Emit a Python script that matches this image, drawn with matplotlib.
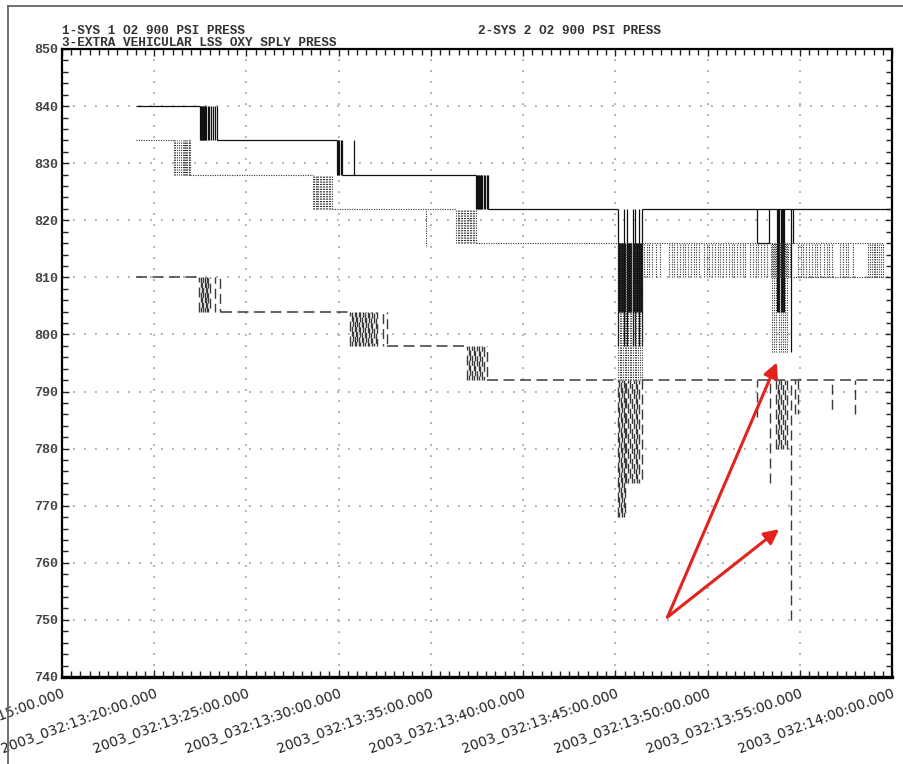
import matplotlib
matplotlib.use("Agg")
import matplotlib.pyplot as plt
from matplotlib.lines import Line2D
from matplotlib.ticker import MultipleLocator

# time axis: minutes after 13:00 on day 032
tick_minutes = [15, 20, 25, 30, 35, 40, 45, 50, 55, 60]
tick_labels = ["2003_032:13:15:00.000", "2003_032:13:20:00.000", "2003_032:13:25:00.000",
               "2003_032:13:30:00.000", "2003_032:13:35:00.000", "2003_032:13:40:00.000",
               "2003_032:13:45:00.000", "2003_032:13:50:00.000", "2003_032:13:55:00.000",
               "2003_032:14:00:00.000"]

# 1 - SYS 1 O2 900 PSI PRESS (solid)
s1_level = [840, 834, 828, 822, 822, 816]
s1_start = [19.0, 23.41, 30.18, 38.10, 46.45, 52.69]
s1_end = [22.48, 29.91, 37.45, 45.15, 59.9, 53.39]
s1_burst_low = [834, 828, 828, 822, 798, 804, 816, 804, 797]
s1_burst_high = [840, 834, 834, 828, 822, 816, 822, 822, 822]
s1_burst_times = [
    [22.48, 22.52, 22.55, 22.59, 22.63, 22.66, 22.70, 22.74, 22.78, 22.83, 22.90, 22.98, 23.08, 23.20, 23.30, 23.41],
    [29.91, 29.95, 29.99, 30.04, 30.10, 30.18],
    [30.84],
    [37.45, 37.49, 37.53, 37.57, 37.61, 37.65, 37.69, 37.74, 37.79, 37.86, 37.95, 38.02, 38.10],
    [45.15, 45.45, 45.62, 45.95, 46.08, 46.30, 46.45],
    [45.18, 45.22, 45.26, 45.30, 45.34, 45.38, 45.42, 45.50, 45.66, 45.70, 45.74, 45.78, 45.82, 45.86,
     45.98, 46.02, 46.06, 46.10, 46.14, 46.18, 46.22, 46.26, 46.34, 46.40],
    [52.69, 53.32, 54.64],
    [53.78, 53.84, 53.90, 53.96, 54.02, 54.08, 54.14],
    [54.55],
]

# 2 - SYS 2 O2 900 PSI PRESS (dotted)
s2_level = [834, 828, 822, 816, 816, 810]
s2_start = [19.0, 21.95, 29.64, 37.45, 46.45, 54.64]
s2_end = [21.07, 28.61, 36.37, 45.15, 59.52, 59.52]
s2_burst_low = [828, 822, 815.5, 816, 792, 810, 797]
s2_burst_high = [834, 828, 822, 822, 816, 816, 816]
s2_burst_times = [
    [21.07, 21.15, 21.25, 21.35, 21.45, 21.55, 21.62, 21.68, 21.74, 21.80, 21.86, 21.91, 21.95],
    [28.61, 28.68, 28.75, 28.82, 28.90, 28.98, 29.06, 29.14, 29.22, 29.30, 29.38, 29.46, 29.54, 29.64],
    [34.74],
    [36.37, 36.45, 36.53, 36.62, 36.70, 36.78, 36.86, 36.94, 37.02, 37.10, 37.18, 37.26, 37.34, 37.45],
    [45.15, 45.24, 45.33, 45.42, 45.51, 45.60, 45.69, 45.78, 45.87, 45.96, 46.05, 46.14, 46.23, 46.32, 46.45],
    [46.55, 46.70, 46.85, 47.00, 47.20, 47.40,
     47.90, 48.05, 48.20, 48.35, 48.50, 48.65, 48.80, 48.95, 49.10, 49.25, 49.40, 49.55,
     49.80, 49.95, 50.10, 50.25, 50.40, 50.55, 50.70, 50.85, 51.00, 51.15, 51.30, 51.45, 51.60, 51.75, 51.90, 52.05,
     52.30, 52.45, 52.60, 52.75, 52.90, 53.05, 53.20,
     53.45, 53.55, 53.65, 53.75, 53.85, 53.95, 54.05, 54.15, 54.25, 54.35, 54.45,
     54.90, 55.05, 55.20, 55.35, 55.50, 55.65, 55.80, 55.95, 56.10,
     56.30, 56.45, 56.60, 56.75,
     57.20, 57.35, 57.50, 57.60, 57.90,
     58.70, 58.80, 58.90, 59.00, 59.10, 59.20, 59.30, 59.40, 59.50],
    [53.50, 53.60, 53.70, 53.85, 54.00, 54.10, 54.20, 54.30],
]

# 3 - EXTRA VEHICULAR LSS OXY SPLY PRESS (dashed)
s3_level = [810, 804, 798, 792, 792]
s3_start = [19.0, 23.62, 32.62, 38.05, 46.45]
s3_end = [22.45, 30.62, 36.96, 45.15, 59.9]
s3_burst_low = [804, 798, 792, 768, 774, 785.5, 774, 780, 750, 786]
s3_burst_high = [810, 804, 798, 792, 792, 792, 792, 792, 792, 792]
s3_burst_times = [
    [22.45, 22.52, 22.59, 22.66, 22.73, 22.80, 22.87, 22.94, 23.00, 23.30, 23.57],
    [30.62, 30.70, 30.78, 30.86, 30.94, 31.02, 31.10, 31.18, 31.26, 31.34, 31.42, 31.50, 31.58,
     31.66, 31.74, 31.82, 31.90, 32.00, 32.10, 32.40, 32.62],
    [36.96, 37.05, 37.14, 37.23, 37.32, 37.41, 37.50, 37.59, 37.68, 37.77, 37.86, 38.05],
    [45.15, 45.22, 45.30, 45.38, 45.46, 45.53],
    [45.60, 45.70, 45.80, 45.90, 46.00, 46.10, 46.20, 46.30, 46.45],
    [52.69],
    [53.39],
    [53.70, 53.80, 53.90, 54.00, 54.10, 54.20, 54.30],
    [54.55],
    [54.75, 54.90, 56.76, 58.00],
]

# red annotation arrows (apex, tips)
arrow_base = (47.83, 750.5)
arrow_tips = [(53.76, 795.1), (53.88, 765.9)]

dash_on, dash_off = 7.2, 3.6
dot_pat = (0, (1.0, 1.2))

fig = plt.figure(figsize=(9.04, 7.64), dpi=100)
ax = fig.add_axes([62 / 904, 1 - 677 / 764, 830 / 904, 628 / 764])

ax.set_xlim(15, 60)
ax.set_ylim(740, 850)

grid_style = dict(color="#9a9a9a", lw=1.1, linestyle=(0, (1.2, 6)), zorder=0)
for m in tick_minutes[1:-1]:
    ax.axvline(m, **grid_style)
for v in range(750, 850, 10):
    ax.axhline(v, **grid_style)

# solid
ax.hlines(s1_level, s1_start, s1_end, colors="#111111", linewidth=0.9, zorder=3)
for lo, hi, t in zip(s1_burst_low, s1_burst_high, s1_burst_times):
    ax.vlines(t, lo, hi, colors="#111111", linewidth=0.9, zorder=3)

# dotted
ax.hlines(s2_level, s2_start, s2_end, colors="#333333", linestyles=dot_pat, linewidth=0.8, zorder=3)
for lo, hi, t in zip(s2_burst_low, s2_burst_high, s2_burst_times):
    ax.vlines(t, lo, hi, colors="#333333", linestyles=dot_pat, linewidth=0.8, zorder=3)

# dashed, bursts with staggered dash phase so they look tangled like the plot
ax.hlines(s3_level, s3_start, s3_end, colors="#3a3a3a",
          linestyles=(0, (dash_on, dash_off)), linewidth=1.1, zorder=3)
for lo, hi, t in zip(s3_burst_low, s3_burst_high, s3_burst_times):
    styles = [((k * 3.7) % (dash_on + dash_off), (dash_on, dash_off)) for k in range(len(t))]
    ax.vlines(t, lo, hi, colors="#3a3a3a", linestyles=styles, linewidth=1.0, zorder=3)

for tip in arrow_tips:
    ax.annotate("", xy=tip, xytext=arrow_base,
                arrowprops=dict(arrowstyle="-|>", color="#e3231b", lw=2.2,
                                mutation_scale=22, shrinkA=0, shrinkB=0),
                zorder=5)

# axes, ticks
ax.set_xticks(tick_minutes)
ax.set_xticklabels(tick_labels, rotation=20, ha="right", va="top",
                   rotation_mode="anchor", fontsize=10, color="#222222",
                   family="DejaVu Sans")
ax.xaxis.set_minor_locator(MultipleLocator(0.5))
ax.yaxis.set_major_locator(MultipleLocator(10))
ax.yaxis.set_minor_locator(MultipleLocator(2))
for lab in ax.get_yticklabels():
    lab.set_family("Liberation Mono")
    lab.set_fontweight("bold")
    lab.set_fontsize(9.6)
    lab.set_color("#444444")
ax.tick_params(which="both", direction="in", top=True, right=True, color="#222222")
ax.tick_params(which="major", length=5, width=1.0)
ax.tick_params(which="minor", length=4, width=1.0)
ax.tick_params(axis="x", which="major", pad=7)
ax.tick_params(axis="y", which="major", pad=3)

for side in ["left", "top", "right"]:
    ax.spines[side].set_linewidth(1.6)
ax.spines["bottom"].set_linewidth(2.4)

head_font = dict(family="Liberation Mono", fontweight="bold", fontsize=9.2, color="#333333")
fig.text(62 / 904, 1 - 33.5 / 764, "1-SYS 1 O2 900 PSI PRESS", **head_font)
fig.text(62 / 904, 1 - 46 / 764, "3-EXTRA VEHICULAR LSS OXY SPLY PRESS", **head_font)
fig.text(478 / 904, 1 - 33.5 / 764, "2-SYS 2 O2 900 PSI PRESS", **head_font)

# scanned page frame
fig.add_artist(Line2D([8 / 904, 1], [1 - 6 / 764, 1 - 6 / 764], transform=fig.transFigure,
                      color="#666666", lw=1.3))
fig.add_artist(Line2D([8 / 904, 8 / 904], [0, 1 - 6 / 764], transform=fig.transFigure,
                      color="#666666", lw=1.3))

fig.savefig("out.png", dpi=100)
